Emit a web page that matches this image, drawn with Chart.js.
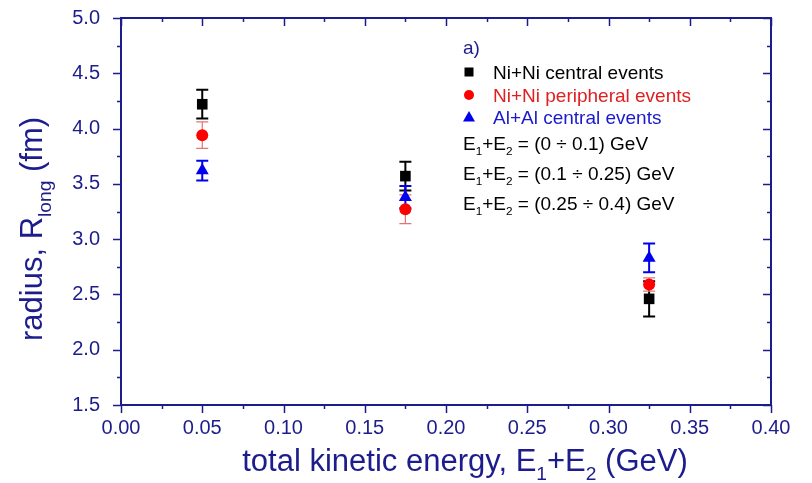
<!DOCTYPE html>
<html>
<head>
<meta charset="utf-8">
<script src="https://cdn.jsdelivr.net/npm/chart.js@4.4.1/dist/chart.umd.min.js"></script>
<style>
  html, body { margin: 0; background: #fff; }
  #wrap { width: 812px; height: 483px; }
</style>
</head>
<body>
<div id="wrap"><canvas id="chart"></canvas></div>
<script>
// data
const energies = [0.05, 0.175, 0.325];
const niCentral = [4.22, 3.57, 2.46];
const niCentralErr = [0.13, 0.13, 0.16];
const niPeripheral = [3.94, 3.27, 2.59];
const niPeripheralErr = [0.12, 0.13, 0.06];
const alCentral = [3.62, 3.38, 2.83];
const alCentralErr = [0.09, 0.10, 0.13];

const xTicks = [0, 0.05, 0.10, 0.15, 0.20, 0.25, 0.30, 0.35, 0.40];
const yTicks = [1.5, 2.0, 2.5, 3.0, 3.5, 4.0, 4.5, 5.0];

const binLabels = ['(0 \u00f7 0.1) GeV', '(0.1 \u00f7 0.25) GeV', '(0.25 \u00f7 0.4) GeV'];

const NAVY = '#1c1c8c';
const FONT = '"Liberation Sans", Arial, sans-serif';

function points(ys) {
    return energies.map((x, i) => ({ x: x, y: ys[i] }));
}

// text with subscripts, parts = [{t, sub}]
function richText(ctx, parts, x, y, size, color, align) {
    let w = 0;
    parts.forEach(p => {
        ctx.font = (p.sub ? size * 0.62 : size) + 'px ' + FONT;
        w += ctx.measureText(p.t).width;
    });
    let cx = align === 'center' ? x - w / 2 : x;
    ctx.fillStyle = color;
    ctx.textAlign = 'left';
    ctx.textBaseline = 'alphabetic';
    parts.forEach(p => {
        ctx.font = (p.sub ? size * 0.62 : size) + 'px ' + FONT;
        ctx.fillText(p.t, cx, p.sub ? y + size * 0.28 : y);
        cx += ctx.measureText(p.t).width;
    });
}

function marker(ctx, style, x, y, color) {
    ctx.fillStyle = color;
    ctx.beginPath();
    if (style === 'rect') {
        ctx.rect(x - 4.5, y - 4.5, 9, 9);
    } else if (style === 'circle') {
        ctx.arc(x, y, 5, 0, Math.PI * 2);
    } else {
        ctx.moveTo(x, y - 6);
        ctx.lineTo(x + 6, y + 4.5);
        ctx.lineTo(x - 6, y + 4.5);
        ctx.closePath();
    }
    ctx.fill();
}

const errorSets = [
    { vals: niCentral, errs: niCentralErr, color: '#000000', width: 2 },
    { vals: niPeripheral, errs: niPeripheralErr, color: '#e07575', width: 1.2 },
    { vals: alCentral, errs: alCentralErr, color: '#0000ee', width: 2 }
];

const decor = {
    id: 'decor',
    beforeDatasetsDraw(chart) {
        const ctx = chart.ctx;
        const xs = chart.scales.x, ys = chart.scales.y;
        ctx.save();
        errorSets.forEach(set => {
            ctx.strokeStyle = set.color;
            ctx.lineWidth = set.width;
            energies.forEach((e, i) => {
                const px = xs.getPixelForValue(e);
                const top = ys.getPixelForValue(set.vals[i] + set.errs[i]);
                const bot = ys.getPixelForValue(set.vals[i] - set.errs[i]);
                ctx.beginPath();
                ctx.moveTo(px, top); ctx.lineTo(px, bot);
                ctx.moveTo(px - 6, top); ctx.lineTo(px + 6, top);
                ctx.moveTo(px - 6, bot); ctx.lineTo(px + 6, bot);
                ctx.stroke();
            });
        });
        ctx.restore();
    },
    afterDraw(chart) {
        const ctx = chart.ctx;
        const a = chart.chartArea;
        const xs = chart.scales.x, ys = chart.scales.y;
        ctx.save();
        ctx.strokeStyle = NAVY;
        ctx.lineWidth = 2;
        ctx.strokeRect(a.left, a.top, a.right - a.left, a.bottom - a.top);

        ctx.beginPath();
        ctx.lineWidth = 1.5;
        // x ticks: outward at bottom, inward at top
        for (let v = 0; v <= 0.4001; v += 0.025) {
            const px = Math.round(xs.getPixelForValue(v)) + 0.5;
            const len = Math.abs(v / 0.05 - Math.round(v / 0.05)) < 1e-6 ? 8 : 4;
            ctx.moveTo(px, a.bottom); ctx.lineTo(px, a.bottom + len);
            ctx.moveTo(px, a.top); ctx.lineTo(px, a.top + len);
        }
        // y ticks: outward at left, inward at right
        for (let v = 1.5; v <= 5.0001; v += 0.25) {
            const py = Math.round(ys.getPixelForValue(v)) + 0.5;
            const len = Math.abs(v / 0.5 - Math.round(v / 0.5)) < 1e-6 ? 8 : 4;
            ctx.moveTo(a.left, py); ctx.lineTo(a.left - len, py);
            ctx.moveTo(a.right, py); ctx.lineTo(a.right - len, py);
        }
        ctx.stroke();

        // axis titles
        richText(ctx, [
            { t: 'total kinetic energy, E' }, { t: '1', sub: true },
            { t: '+E' }, { t: '2', sub: true }, { t: ' (GeV)' }
        ], 465, 471, 31, NAVY, 'center');

        ctx.save();
        ctx.translate(42, 229);
        ctx.rotate(-Math.PI / 2);
        richText(ctx, [
            { t: 'radius, R' }, { t: 'long', sub: true }, { t: ' (fm)' }
        ], 0, 0, 31, NAVY, 'center');
        ctx.restore();

        // legend box
        richText(ctx, [{ t: 'a)' }], 463, 54, 19, NAVY, 'left');
        const rows = [
            { style: 'rect', color: '#000000', text: 'Ni+Ni central events', tc: '#000000' },
            { style: 'circle', color: '#ff0000', text: 'Ni+Ni peripheral events', tc: '#e02020' },
            { style: 'triangle', color: '#0000ee', text: 'Al+Al central events', tc: '#1a1acc' }
        ];
        const rowY = [72, 95, 117];
        rows.forEach((r, i) => {
            marker(ctx, r.style, 469, rowY[i], r.color);
            richText(ctx, [{ t: r.text }], 493, rowY[i] + 7, 19, r.tc, 'left');
        });
        const binY = [143, 173, 203];
        binLabels.forEach((b, i) => {
            richText(ctx, [
                { t: 'E' }, { t: '1', sub: true }, { t: '+E' }, { t: '2', sub: true }, { t: ' = ' + b }
            ], 463, binY[i] + 7, 19, '#000000', 'left');
        });
        ctx.restore();
    }
};

new Chart(document.getElementById('chart'), {
    type: 'scatter',
    data: {
        datasets: [
            {
                label: 'Ni+Ni central events',
                data: points(niCentral),
                pointStyle: 'rect',
                pointRadius: 7.5,
                backgroundColor: '#000000',
                borderColor: '#000000',
                borderWidth: 0
            },
            {
                label: 'Ni+Ni peripheral events',
                data: points(niPeripheral),
                pointStyle: 'circle',
                pointRadius: 6,
                backgroundColor: '#ff0000',
                borderColor: '#ff0000',
                borderWidth: 0
            },
            {
                label: 'Al+Al central events',
                data: points(alCentral),
                pointStyle: 'triangle',
                pointRadius: 7.5,
                backgroundColor: '#0000ee',
                borderColor: '#0000ee',
                borderWidth: 0
            }
        ]
    },
    options: {
        responsive: true,
        maintainAspectRatio: false,
        animation: false,
        devicePixelRatio: 1,
        layout: { padding: { top: 18, right: 41, left: 0, bottom: 0 } },
        plugins: {
            legend: { display: false },
            tooltip: { enabled: false }
        },
        scales: {
            x: {
                type: 'linear',
                min: 0,
                max: 0.4,
                afterBuildTicks: s => { s.ticks = xTicks.map(v => ({ value: v })); },
                afterFit: s => { s.height = 78; s.paddingLeft = 0; s.paddingRight = 0; },
                grid: { display: false },
                border: { display: false },
                ticks: {
                    color: NAVY,
                    font: { family: FONT, size: 20 },
                    padding: 3,
                    maxRotation: 0,
                    autoSkip: false,
                    callback: v => v.toFixed(2)
                }
            },
            y: {
                min: 1.5,
                max: 5,
                afterBuildTicks: s => { s.ticks = yTicks.map(v => ({ value: v })); },
                afterFit: s => { s.width = 121; s.paddingTop = 0; s.paddingBottom = 0; },
                grid: { display: false },
                border: { display: false },
                ticks: {
                    color: NAVY,
                    font: { family: FONT, size: 20 },
                    padding: 13,
                    autoSkip: false,
                    callback: v => v.toFixed(1)
                }
            }
        }
    },
    plugins: [decor]
});
</script>
</body>
</html>
